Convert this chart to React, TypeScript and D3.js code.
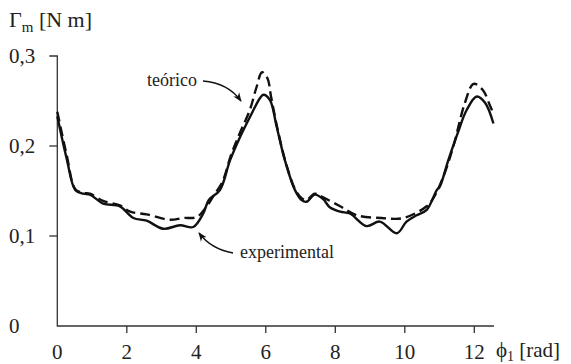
import React from 'react';
import * as d3 from 'd3';

// angle phi1 [rad] and torque [N m]
const expX = [0, 0.27, 0.52, 0.75, 0.94, 1.32, 1.8, 2.19, 2.57, 3.05, 3.53, 3.91, 4.2, 4.36, 4.68, 4.97, 5.26, 5.54, 5.83, 5.93, 6.12, 6.31, 6.55, 6.84, 7.03, 7.17, 7.41, 7.65, 7.84, 8.14, 8.42, 8.9, 9.28, 9.77, 10.05, 10.34, 10.63, 10.92, 11.01, 11.25, 11.52, 11.78, 12.07, 12.31, 12.55];
const expY = [0.233, 0.186, 0.151, 0.147, 0.146, 0.136, 0.133, 0.12, 0.117, 0.108, 0.112, 0.11, 0.125, 0.14, 0.151, 0.184, 0.21, 0.232, 0.253, 0.257, 0.251, 0.222, 0.184, 0.151, 0.14, 0.138, 0.146, 0.141, 0.132, 0.127, 0.125, 0.111, 0.116, 0.103, 0.116, 0.123, 0.129, 0.151, 0.155, 0.184, 0.214, 0.24, 0.255, 0.248, 0.225];

const teoX = [0, 0.27, 0.52, 0.75, 0.94, 1.32, 1.8, 2.1, 2.57, 3.24, 3.62, 4.01, 4.3, 4.5, 4.75, 5.0, 5.26, 5.54, 5.73, 5.89, 6.05, 6.15, 6.31, 6.55, 6.84, 7.03, 7.17, 7.41, 7.65, 8.14, 8.62, 9.33, 9.96, 10.63, 10.82, 11.1, 11.4, 11.73, 11.98, 12.25, 12.45, 12.55];
const teoY = [0.238, 0.19, 0.152, 0.148, 0.147, 0.139, 0.134, 0.127, 0.124, 0.118, 0.12, 0.121, 0.133, 0.145, 0.16, 0.19, 0.215, 0.24, 0.265, 0.282, 0.275, 0.255, 0.224, 0.185, 0.152, 0.142, 0.14, 0.147, 0.143, 0.133, 0.123, 0.12, 0.12, 0.133, 0.142, 0.165, 0.2, 0.248, 0.269, 0.262, 0.245, 0.236];

const xTicks = [2, 4, 6, 8, 10, 12];
const xTickLabels = ['0', '2', '4', '6', '8', '10', '12'];
const yTicks = [0.1, 0.2, 0.3];
const yTickLabels = ['0', '0,1', '0,2', '0,3'];

const W = 571, H = 364;
const serif: React.CSSProperties = { fontFamily: "'Liberation Serif', 'DejaVu Serif', 'Times New Roman', serif" };

export default function App() {
  const x = d3.scaleLinear().domain([0, 12]).range([57.3, 474.3]);
  const y = d3.scaleLinear().domain([0, 0.3]).range([326, 56]);

  const line = d3.line<[number, number]>()
    .x(d => x(d[0]))
    .y(d => y(d[1]))
    .curve(d3.curveCatmullRom.alpha(0.5));

  const exp = expX.map((v, i) => [v, expY[i]] as [number, number]);
  const teo = teoX.map((v, i) => [v, teoY[i]] as [number, number]);

  const x0 = x(0), y0 = y(0);
  const xEnd = x(4 * Math.PI);

  return (
    <div style={{ position: 'absolute', left: 0, top: 0 }}>
      <svg width={W} height={H} style={{ display: 'block', background: '#fff' }}>
        <defs>
          <marker id="ah" viewBox="0 0 10 10" refX="9" refY="5" markerWidth="9" markerHeight="9" orient="auto" markerUnits="userSpaceOnUse">
            <path d="M0,1 L10,5 L0,9 L3,5 Z" fill="#111" />
          </marker>
        </defs>

        {/* axes */}
        <path d={`M${x0 - 8},${y(0.3)} H${x0} V${y0} H${xEnd}`} fill="none" stroke="#333" strokeWidth={1.3} />
        {yTicks.slice(0, 2).map(t => (
          <line key={t} x1={x0 - 8} x2={x0} y1={y(t)} y2={y(t)} stroke="#333" strokeWidth={1.3} />
        ))}
        {xTicks.map(t => (
          <line key={t} x1={x(t)} x2={x(t)} y1={y0} y2={y0 + 7} stroke="#333" strokeWidth={1.3} />
        ))}

        <g style={serif} fill="#222">
          {/* tick labels */}
          {[0, ...xTicks].map((t, i) => (
            <text key={t} x={x(t)} y={359} textAnchor="middle" fontSize={21}>{xTickLabels[i]}</text>
          ))}
          {[0, ...yTicks].map((t, i) => (
            <text key={t} x={9} y={y(t) + 7} fontSize={21}>{yTickLabels[i]}</text>
          ))}

          {/* axis titles */}
          <text x={9} y={27} fontSize={22}>
            Γ<tspan fontSize={15} dy={5}>m</tspan><tspan dy={-5}> [N m]</tspan>
          </text>
          <text x={496} y={357} fontSize={21}>
            ϕ<tspan fontSize={14} dy={4}>1</tspan><tspan dy={-4}> [rad]</tspan>
          </text>

          {/* annotation labels */}
          <text x={147} y={86} fontSize={18}>teórico</text>
          <text x={240} y={258} fontSize={18}>experimental</text>
        </g>

        {/* curves */}
        <path d={line(teo) ?? ''} fill="none" stroke="#111" strokeWidth={2.4} strokeDasharray="10 5" />
        <path d={line(exp) ?? ''} fill="none" stroke="#111" strokeWidth={2.4} />

        {/* arrows */}
        <path d="M203,81 Q228,83 241,101" fill="none" stroke="#111" strokeWidth={1.3} markerEnd="url(#ah)" />
        <path d="M233,253 Q211,249 199,233" fill="none" stroke="#111" strokeWidth={1.3} markerEnd="url(#ah)" />
      </svg>
    </div>
  );
}
